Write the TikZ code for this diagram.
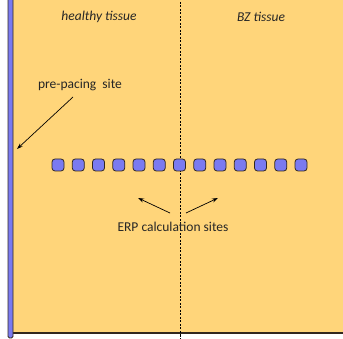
\documentclass[tikz,border=0pt]{standalone}
\usepackage{fontspec}
\setmainfont{Carlito}
\usetikzlibrary{arrows.meta}
\definecolor{tissue}{RGB}{255,213,122}
\definecolor{siteblue}{RGB}{122,122,240}
\definecolor{edge}{RGB}{50,40,30}
\tikzset{
  site/.style={draw=edge, fill=siteblue, rounded corners=3pt, minimum width=12pt, minimum height=12pt, inner sep=0pt, line width=0.8pt},
  lbl/.style={font=\fontsize{13.5}{15}\selectfont, text=black!85, inner sep=1pt},
  arr/.style={-{Stealth[length=6pt,width=4pt]}, line width=0.7pt},
}
\begin{document}
\begin{tikzpicture}[x=1pt,y=-1pt]
\useasboundingbox (0,0) rectangle (343,339);
% tissue
\fill[tissue] (11,-5) rectangle (350,333);
\draw[edge, line width=1.2pt] (11,333) -- (350,333);
% pacing bar
\draw[edge, fill=siteblue, rounded corners=1.5pt, line width=0.8pt] (8,-5) rectangle (13,338);
% boundary
\coordinate (btop) at (180,-5);
\coordinate (bbot) at (180,339);
\draw[dash pattern=on 2pt off 1.5pt, line width=0.9pt] (btop) -- (bbot);
% labels
\node[lbl, font=\fontsize{13.5}{15}\selectfont\itshape] (healthy) at (99,17) {healthy tissue};
\node[lbl, font=\fontsize{13.5}{15}\selectfont\itshape] (bz) at (261,17) {BZ tissue};
\node[lbl] (pre) at (80,85) {pre-pacing\ \ site};
\node[lbl] (erp) at (173,227) {ERP calculation sites};
% sites
\foreach \i in {0,...,12} {
  \node[site] (s\i) at ({58+\i*20.25},165) {};
}
% arrows
\coordinate (bar) at (17,149);
\draw[arr] (73,97) -- (bar);
\coordinate (la) at (138,198);
\coordinate (ra) at (218,198);
\draw[arr] (170,213) -- (la);
\draw[arr] (186,213) -- (ra);
\end{tikzpicture}
\end{document}
